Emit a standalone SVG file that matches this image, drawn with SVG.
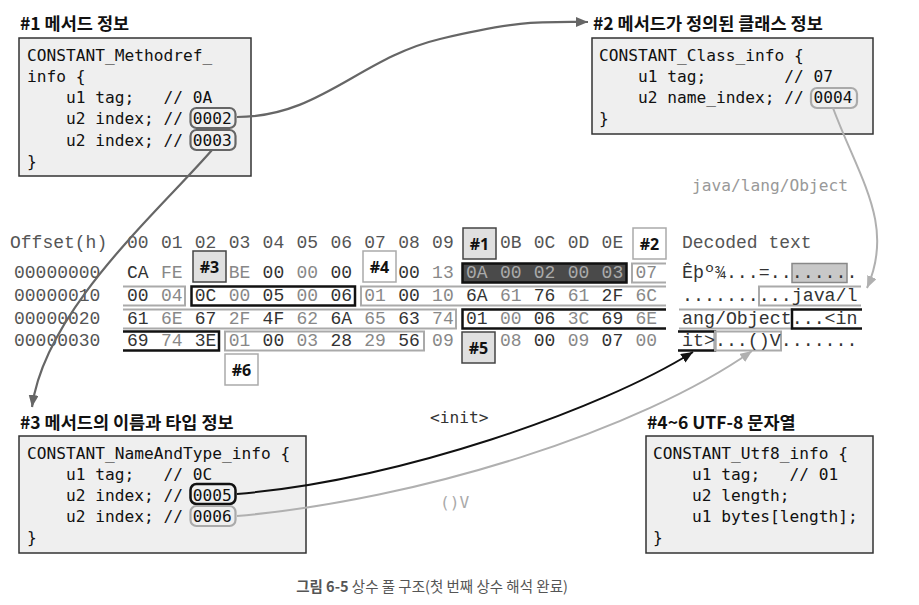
<svg xmlns="http://www.w3.org/2000/svg" width="919" height="605" viewBox="0 0 919 605">
<defs>
<style>
.title{font-family:"Noto Sans CJK KR","Noto Sans",sans-serif;font-weight:bold;font-size:17.5px;fill:#111}
.code{font-family:"DejaVu Sans Mono",monospace;font-size:16.2px;fill:#111;white-space:pre}
.box{fill:#efefef;stroke:#333;stroke-width:1.5}
.hex{font-family:"Liberation Mono","Courier New",monospace;font-size:18px;white-space:pre}
.hd{fill:#555}
.e{fill:#333}
.o{fill:#888}
.inv{fill:#aaa}
.dec{font-family:"Liberation Mono","Courier New",monospace;font-size:18.3px;fill:#333;white-space:pre}
.gb{fill:none;stroke:#aaa;stroke-width:2}
.bb{fill:none;stroke:#111;stroke-width:2.5}
.lblg{fill:#e0e0e0;stroke:#444;stroke-width:1.5}
.lblw{fill:#fff;stroke:#aaa;stroke-width:1.5}
.lbl{font-family:"Noto Sans","Noto Sans CJK KR",sans-serif;font-weight:bold;font-size:16px;fill:#111;text-anchor:middle}
.zb{fill:none;stroke:#666;stroke-width:2.2}
.zk{fill:none;stroke:#111;stroke-width:2.5}
.zg{fill:none;stroke:#aaa;stroke-width:2.2}
.c1{fill:none;stroke:#666;stroke-width:2.2}
.ck{fill:none;stroke:#111;stroke-width:2}
.cg{fill:none;stroke:#b0b0b0;stroke-width:2}
</style>
<marker id="aDark" viewBox="0 0 12 10" refX="12" refY="5" markerWidth="12" markerHeight="10" markerUnits="userSpaceOnUse" orient="auto"><path d="M0,0 L12,5 L0,10 z" fill="#666"/></marker>
<marker id="aBlack" viewBox="0 0 12 10" refX="12" refY="5" markerWidth="12" markerHeight="10" markerUnits="userSpaceOnUse" orient="auto"><path d="M0,0 L12,5 L0,10 z" fill="#111"/></marker>
<marker id="aGray" viewBox="0 0 12 10" refX="12" refY="5" markerWidth="12" markerHeight="10" markerUnits="userSpaceOnUse" orient="auto"><path d="M0,0 L12,5 L0,10 z" fill="#b0b0b0"/></marker>
</defs>
<rect width="919" height="605" fill="#fff"/>

<g id="methodref">
<text class="title" x="20" y="30">#1 메서드 정보</text>
<rect class="box" x="19" y="38" width="232" height="138"/>
<text class="code" xml:space="preserve" x="27" y="61">CONSTANT_Methodref_</text>
<text class="code" xml:space="preserve" x="27" y="82">info {</text>
<text class="code" xml:space="preserve" x="27" y="103">    u1 tag;   // 0A</text>
<text class="code" xml:space="preserve" x="27" y="124">    u2 index; // 0002</text>
<text class="code" xml:space="preserve" x="27" y="146">    u2 index; // 0003</text>
<text class="code" xml:space="preserve" x="27" y="167">}</text>
<rect class="zb" x="190.5" y="108" width="45" height="20" rx="6"/>
<rect class="zb" x="190.5" y="130" width="45" height="20" rx="6"/>
</g>

<g id="classinfo">
<text class="title" x="593" y="30">#2 메서드가 정의된 클래스 정보</text>
<rect class="box" x="592" y="38" width="281" height="96"/>
<text class="code" xml:space="preserve" x="599" y="61">CONSTANT_Class_info {</text>
<text class="code" xml:space="preserve" x="599" y="82">    u1 tag;        // 07</text>
<text class="code" xml:space="preserve" x="599" y="103">    u2 name_index; // 0004</text>
<text class="code" xml:space="preserve" x="599" y="124">}</text>
<rect class="zg" x="811" y="88" width="46" height="20" rx="6"/>
</g>

<g id="nameandtype">
<text class="title" x="20" y="429">#3 메서드의 이름과 타입 정보</text>
<rect class="box" x="19" y="436" width="287" height="117"/>
<text class="code" xml:space="preserve" x="27" y="459">CONSTANT_NameAndType_info {</text>
<text class="code" xml:space="preserve" x="27" y="480">    u1 tag;   // 0C</text>
<text class="code" xml:space="preserve" x="27" y="501">    u2 index; // 0005</text>
<text class="code" xml:space="preserve" x="27" y="522">    u2 index; // 0006</text>
<text class="code" xml:space="preserve" x="27" y="543">}</text>
<rect class="zk" x="190.5" y="484" width="45" height="20" rx="6"/>
<rect class="zg" x="190.5" y="506" width="45" height="20" rx="6"/>
</g>

<g id="utf8info">
<text class="title" x="647" y="429">#4~6 UTF-8 문자열</text>
<rect class="box" x="646" y="436" width="227" height="117"/>
<text class="code" xml:space="preserve" x="653" y="459">CONSTANT_Utf8_info {</text>
<text class="code" xml:space="preserve" x="653" y="480">    u1 tag;   // 01</text>
<text class="code" xml:space="preserve" x="653" y="501">    u2 length;</text>
<text class="code" xml:space="preserve" x="653" y="522">    u1 bytes[length];</text>
<text class="code" xml:space="preserve" x="653" y="543">}</text>
</g>

<g id="hexdump">
<rect x="462.5" y="263.5" width="164" height="19" fill="#4a4a4a" stroke="#111" stroke-width="2.5"/>
<path class="gb" d="M666,263.5 H632 V282.5 H666"/>
<path class="gb" d="M123,286.5 H185 V305.5 H123"/>
<rect class="bb" x="191.5" y="286.5" width="163.5" height="19"/>
<path class="gb" d="M666,286.5 H361 V305.5 H666"/>
<path class="gb" d="M123,309.5 H456 V328.5 H123"/>
<path class="bb" d="M666,309.5 H462.5 V328.5 H666"/>
<path class="bb" d="M123,331.5 H219 V350.5 H123"/>
<rect class="gb" x="225" y="331.5" width="199" height="19"/>

<rect x="792" y="263.5" width="55" height="19" fill="#c8c8c8" stroke="#888" stroke-width="1.5"/>
<path class="gb" d="M861,286.5 H759 V305.5 H861"/>
<path class="gb" d="M679,309.5 H792 V328.5 H679"/>
<path class="bb" d="M862,309.5 H792 V328.5 H862"/>
<path class="bb" d="M678,331.5 H715 V350.5 H678"/>
<rect class="gb" x="715" y="331.5" width="66" height="19"/>

<g class="hex hd">
<text x="10" y="248">Offset(h)</text>
<text x="127" y="248">00</text><text x="160.9" y="248">01</text><text x="194.8" y="248">02</text><text x="228.7" y="248">03</text><text x="262.6" y="248">04</text><text x="296.5" y="248">05</text><text x="330.4" y="248">06</text><text x="364.3" y="248">07</text><text x="398.2" y="248">08</text><text x="432.1" y="248">09</text><text x="499.9" y="248">0B</text><text x="533.8" y="248">0C</text><text x="567.7" y="248">0D</text><text x="601.6" y="248">0E</text>
<text x="682" y="248">Decoded text</text>
<text x="14" y="278">00000000</text>
<text x="14" y="301">00000010</text>
<text x="14" y="324">00000020</text>
<text x="14" y="346">00000030</text>
</g>
<g class="hex">
<text class="e" x="127" y="278">CA</text><text class="o" x="160.9" y="278">FE</text><text class="o" x="228.7" y="278">BE</text><text class="e" x="262.6" y="278">00</text><text class="o" x="296.5" y="278">00</text><text class="e" x="330.4" y="278">00</text><text class="e" x="398.2" y="278">00</text><text class="o" x="432.1" y="278">13</text><text class="inv" x="466" y="278">0A</text><text class="inv" x="499.9" y="278">00</text><text class="inv" x="533.8" y="278">02</text><text class="inv" x="567.7" y="278">00</text><text class="inv" x="601.6" y="278">03</text><text class="o" x="635.5" y="278">07</text>
<text class="e" x="127" y="301">00</text><text class="o" x="160.9" y="301">04</text><text class="e" x="194.8" y="301">0C</text><text class="o" x="228.7" y="301">00</text><text class="e" x="262.6" y="301">05</text><text class="o" x="296.5" y="301">00</text><text class="e" x="330.4" y="301">06</text><text class="o" x="364.3" y="301">01</text><text class="e" x="398.2" y="301">00</text><text class="o" x="432.1" y="301">10</text><text class="e" x="466" y="301">6A</text><text class="o" x="499.9" y="301">61</text><text class="e" x="533.8" y="301">76</text><text class="o" x="567.7" y="301">61</text><text class="e" x="601.6" y="301">2F</text><text class="o" x="635.5" y="301">6C</text>
<text class="e" x="127" y="324">61</text><text class="o" x="160.9" y="324">6E</text><text class="e" x="194.8" y="324">67</text><text class="o" x="228.7" y="324">2F</text><text class="e" x="262.6" y="324">4F</text><text class="o" x="296.5" y="324">62</text><text class="e" x="330.4" y="324">6A</text><text class="o" x="364.3" y="324">65</text><text class="e" x="398.2" y="324">63</text><text class="o" x="432.1" y="324">74</text><text class="e" x="466" y="324">01</text><text class="o" x="499.9" y="324">00</text><text class="e" x="533.8" y="324">06</text><text class="o" x="567.7" y="324">3C</text><text class="e" x="601.6" y="324">69</text><text class="o" x="635.5" y="324">6E</text>
<text class="e" x="127" y="346">69</text><text class="o" x="160.9" y="346">74</text><text class="e" x="194.8" y="346">3E</text><text class="o" x="228.7" y="346">01</text><text class="e" x="262.6" y="346">00</text><text class="o" x="296.5" y="346">03</text><text class="e" x="330.4" y="346">28</text><text class="o" x="364.3" y="346">29</text><text class="e" x="398.2" y="346">56</text><text class="o" x="432.1" y="346">09</text><text class="o" x="499.9" y="346">08</text><text class="e" x="533.8" y="346">00</text><text class="o" x="567.7" y="346">09</text><text class="e" x="601.6" y="346">07</text><text class="o" x="635.5" y="346">00</text>
</g>
<text class="dec" xml:space="preserve" x="682" y="278">Êþº¾...=........</text>
<text class="dec" xml:space="preserve" x="682" y="301">..........java/l</text>
<text class="dec" xml:space="preserve" x="682" y="324">ang/Object...&lt;in</text>
<text class="dec" xml:space="preserve" x="682" y="346">it&gt;...()V.......</text>

<rect class="lblg" x="463" y="228" width="33" height="31"/><text class="lbl" x="479.5" y="249.5">#1</text>
<rect class="lblw" x="633" y="228" width="33" height="31"/><text class="lbl" x="649.5" y="249.5">#2</text>
<rect class="lblg" x="193" y="251" width="33" height="31"/><text class="lbl" x="209.5" y="272.5">#3</text>
<rect class="lblw" x="363" y="251" width="33" height="31"/><text class="lbl" x="379.5" y="272.5">#4</text>
<rect class="lblg" x="462" y="332" width="33" height="31"/><text class="lbl" x="478.5" y="353.5">#5</text>
<rect class="lblw" x="225" y="354" width="33" height="31"/><text class="lbl" x="241.5" y="375.5">#6</text>
</g>

<g id="connectors">
<path class="c1" d="M237,117 C320,117 360,58 440,39 S540,22 588,22" marker-end="url(#aDark)"/>
<path class="c1" d="M212,150 C160,210 45,310 32,407" marker-end="url(#aDark)"/>
<path class="ck" d="M237,494 C400,480 600,410 693,352" marker-end="url(#aBlack)"/>
<path class="cg" d="M237,516 C420,500 640,430 752,351" marker-end="url(#aGray)"/>
<path class="cg" d="M833,108 C860,180 895,225 867,288" marker-end="url(#aGray)"/>
<text class="code" x="692" y="191" style="fill:#999">java/lang/Object</text>
<text class="code" x="430" y="423" style="fill:#333">&lt;init&gt;</text>
<text class="code" x="440" y="508" style="fill:#aaa">()V</text>
</g>

<text x="432" y="592" text-anchor="middle" style="font-family:'Noto Sans CJK KR','Noto Sans',sans-serif;font-size:14.5px;fill:#555"><tspan font-weight="bold">그림 6-5</tspan> 상수 풀 구조(첫 번째 상수 해석 완료)</text>
</svg>
